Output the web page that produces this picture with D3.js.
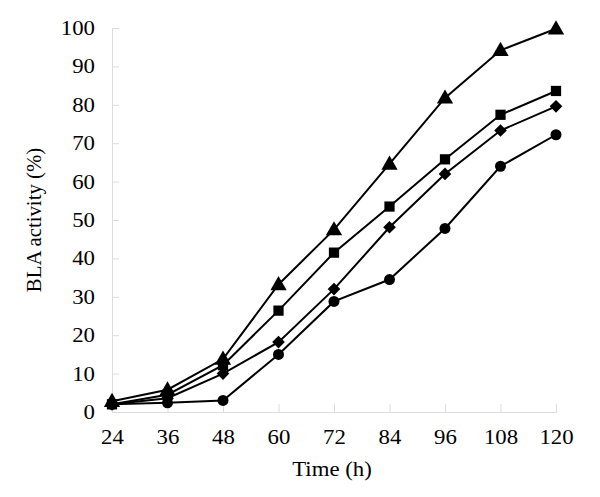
<!DOCTYPE html>
<html><head><meta charset="utf-8">
<script src="https://cdn.jsdelivr.net/npm/d3@7"></script>
<style>body{margin:0;background:#fff}svg{display:block}</style>
</head><body>
<svg id="c" width="600" height="497"></svg>
<script>
const times = [24, 36, 48, 60, 72, 84, 96, 108, 120];
const triangleSeries = [2.8, 5.8, 13.8, 33.2, 47.5, 64.6, 81.8, 94.2, 99.8];
const squareSeries   = [2.0, 4.5, 12.2, 26.4, 41.5, 53.5, 65.8, 77.4, 83.6];
const diamondSeries  = [2.0, 3.6, 10.0, 18.2, 32.0, 48.1, 62.0, 73.3, 79.6];
const circleSeries   = [2.0, 2.4, 3.0, 15.0, 28.8, 34.5, 47.8, 64.0, 72.2];
const yTicks = [0, 10, 20, 30, 40, 50, 60, 70, 80, 90, 100];

const svg = d3.select("#c");
const x = d3.scaleLinear().domain([24, 120]).range([112, 556]);
const y = d3.scaleLinear().domain([0, 100]).range([412, 28]);
const font = "'Liberation Serif','Times New Roman',serif";
const axisColor = "#dcdcdc";
const sx = 1.14;

// axes
const xAxis = svg.append("g").attr("transform", `translate(0,${y(0)})`)
  .call(d3.axisBottom(x).tickValues(times).tickSize(-8).tickPadding(18).tickFormat(d3.format("d")));
const yAxis = svg.append("g").attr("transform", `translate(${x(24)},0)`)
  .call(d3.axisLeft(y).tickValues(yTicks).tickSize(-7).tickPadding(17).tickFormat(d3.format("d")));
[xAxis, yAxis].forEach(g => {
  g.select(".domain").attr("stroke", axisColor).attr("stroke-width", 1);
  g.selectAll(".tick line").attr("stroke", axisColor);
  g.selectAll(".tick text").attr("fill", "#000").style("font-family", font)
    .style("font-size", "20px").attr("transform", `scale(${sx},1)`);
});
xAxis.selectAll(".tick text").attr("dy", "0.71em");
yAxis.selectAll(".tick text").attr("x", -17 / sx);

svg.append("text").attr("transform", `translate(332,476) scale(${sx},1)`).attr("text-anchor", "middle")
  .style("font-family", font).style("font-size", "20px").text("Time (h)");
svg.append("text").attr("transform", "translate(41,220) rotate(-90) scale(1.04,1)").attr("text-anchor", "middle")
  .style("font-family", font).style("font-size", "20px").text("BLA activity (%)");

const series = [
  {vals: circleSeries, sym: d3.symbolCircle, size: 95, rot: 0},
  {vals: diamondSeries, sym: d3.symbolSquare, size: 80, rot: 45},
  {vals: squareSeries, sym: d3.symbolSquare, size: 105, rot: 0},
  {vals: triangleSeries, sym: d3.symbolTriangle, size: 115, rot: 0},
];
const line = d3.line().x((d, i) => x(times[i])).y(d => y(d));
series.forEach(s => {
  svg.append("path").datum(s.vals).attr("d", line).attr("fill", "none")
    .attr("stroke", "#000").attr("stroke-width", 2);
});
series.forEach(s => {
  svg.append("g").selectAll("path").data(s.vals).join("path")
    .attr("transform", (d, i) => `translate(${x(times[i])},${y(d) + (s.sym === d3.symbolTriangle ? 1 : 0)}) rotate(${s.rot})`)
    .attr("d", d3.symbol().type(s.sym).size(s.size)).attr("fill", "#000");
});
</script>
</body></html>
